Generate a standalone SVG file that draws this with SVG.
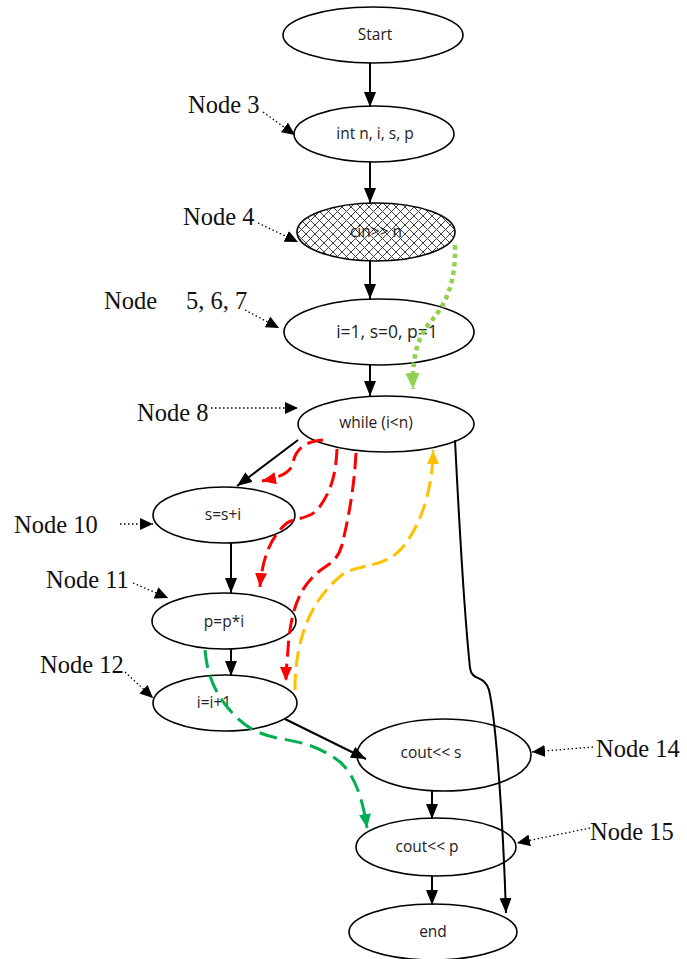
<svg xmlns="http://www.w3.org/2000/svg" width="687" height="959" viewBox="0 0 687 959">
  <defs>
    <style>
      .node ellipse { fill: #ffffff; stroke: #000000; stroke-width: 1.6; }
      .node text { font-family: "Open Sans", "Liberation Sans", sans-serif; font-size: 15.5px; fill: #222222; text-anchor: middle; }
      .lbl { font-family: "Liberation Serif", "DejaVu Serif", serif; font-size: 24.5px; fill: #111111; }
      .flow { fill: none; stroke: #000000; stroke-width: 2; }
      .note { fill: none; stroke: #000000; stroke-width: 1.3; stroke-dasharray: 1.5 2.5; }
      .red { fill: none; stroke: #ff0000; stroke-width: 3; stroke-dasharray: 16 7; }
      .amber { fill: none; stroke: #ffc000; stroke-width: 3; stroke-dasharray: 16 7; }
      .green { fill: none; stroke: #00b050; stroke-width: 3; stroke-dasharray: 18 8; }
      .lime { fill: none; stroke: #92d050; stroke-width: 4.5; stroke-dasharray: 4.5 4; }
    </style>
    <marker id="arrow" markerUnits="userSpaceOnUse" markerWidth="15" markerHeight="12" refX="15" refY="6" orient="auto">
      <path d="M0,0 L15,6 L0,12 z" fill="#000000"/>
    </marker>
    <marker id="arrowSm" markerUnits="userSpaceOnUse" markerWidth="13" markerHeight="12" refX="13" refY="6" orient="auto">
      <path d="M0,0 L13,6 L0,12 z" fill="#000000"/>
    </marker>
    <marker id="arrowRed" markerUnits="userSpaceOnUse" markerWidth="14" markerHeight="12" refX="14" refY="6" orient="auto">
      <path d="M0,0 L14,6 L0,12 z" fill="#ff0000"/>
    </marker>
    <marker id="arrowAmber" markerUnits="userSpaceOnUse" markerWidth="14" markerHeight="12" refX="14" refY="6" orient="auto">
      <path d="M0,0 L14,6 L0,12 z" fill="#ffc000"/>
    </marker>
    <marker id="arrowGreen" markerUnits="userSpaceOnUse" markerWidth="14" markerHeight="12" refX="14" refY="6" orient="auto">
      <path d="M0,0 L14,6 L0,12 z" fill="#00b050"/>
    </marker>
    <marker id="arrowLime" markerUnits="userSpaceOnUse" markerWidth="16" markerHeight="14" refX="16" refY="7" orient="auto">
      <path d="M0,0 L16,7 L0,14 z" fill="#92d050"/>
    </marker>
    <pattern id="crosshatch" patternUnits="userSpaceOnUse" width="9" height="9">
      <rect width="9" height="9" fill="#ffffff"/>
      <path d="M-1,-1 L10,10 M10,-1 L-1,10" stroke="#404040" stroke-width="1"/>
    </pattern>
  </defs>

  <!-- flowchart nodes -->
  <g id="start" class="node">
    <ellipse cx="373" cy="35" rx="90" ry="28"/>
    <text x="375" y="40">Start</text>
  </g>
  <g id="declare" class="node">
    <ellipse cx="374" cy="134" rx="80" ry="28"/>
    <text x="375" y="139">int n, i, s, p</text>
  </g>
  <g id="input" class="node">
    <ellipse cx="376" cy="232" rx="79" ry="29" style="fill:url(#crosshatch)"/>
    <text x="376" y="237">cin&gt;&gt; n</text>
  </g>
  <g id="init" class="node">
    <ellipse cx="379" cy="332" rx="95" ry="33"/>
    <text x="387" y="338" style="font-size:17.5px">i=1, s=0, p=1</text>
  </g>
  <g id="loop" class="node">
    <ellipse cx="386" cy="424" rx="88" ry="28"/>
    <text x="376" y="428">while (i&lt;n)</text>
  </g>
  <g id="sum" class="node">
    <ellipse cx="224" cy="515" rx="71" ry="28"/>
    <text x="223" y="520">s=s+i</text>
  </g>
  <g id="product" class="node">
    <ellipse cx="224" cy="621" rx="72" ry="28"/>
    <text x="224" y="627">p=p*i</text>
  </g>
  <g id="increment" class="node">
    <ellipse cx="225" cy="703" rx="72" ry="28"/>
    <text x="214" y="708">i=i+1</text>
  </g>
  <g id="print-s" class="node">
    <ellipse cx="444" cy="755" rx="87" ry="36"/>
    <text x="431" y="758">cout&lt;&lt; s</text>
  </g>
  <g id="print-p" class="node">
    <ellipse cx="436" cy="847" rx="80" ry="29"/>
    <text x="427" y="852">cout&lt;&lt; p</text>
  </g>
  <g id="end" class="node">
    <ellipse cx="433" cy="932" rx="84" ry="28"/>
    <text x="433" y="937">end</text>
  </g>

  <!-- connectors -->
  <g id="connectors">
    <!-- control flow -->
    <path class="flow" d="M370,63 L370,107" marker-end="url(#arrow)"/>
    <path class="flow" d="M370,162 L370,203" marker-end="url(#arrow)"/>
    <path class="flow" d="M370,261 L370,299" marker-end="url(#arrow)"/>
    <path class="flow" d="M370,365 L370,396" marker-end="url(#arrow)"/>
    <path class="flow" d="M298,440 L237,486" marker-end="url(#arrow)"/>
    <path class="flow" d="M231,543 L231,593" marker-end="url(#arrow)"/>
    <path class="flow" d="M231,649 L231,676" marker-end="url(#arrow)"/>
    <path class="flow" d="M285,719 L366,759" marker-end="url(#arrow)"/>
    <path class="flow" d="M432,791 L432,819" marker-end="url(#arrow)"/>
    <path class="flow" d="M432,876 L432,905" marker-end="url(#arrow)"/>
    <path class="flow" d="M455,440 C459,520 465,620 470,668 C472,682 484,674 489,690 C496,720 503,820 506,913" marker-end="url(#arrow)"/>

    <!-- annotation pointers -->
    <path class="note" d="M263,112 L295,135" marker-end="url(#arrowSm)"/>
    <path class="note" d="M258,223 L298,242" marker-end="url(#arrowSm)"/>
    <path class="note" d="M245,310 L279,328" marker-end="url(#arrowSm)"/>
    <path class="note" d="M211,408 L298,408" marker-end="url(#arrowSm)"/>
    <path class="note" d="M120,524 L153,524" marker-end="url(#arrowSm)"/>
    <path class="note" d="M133,583 L168,598" marker-end="url(#arrowSm)"/>
    <path class="note" d="M125,672 L153,698" marker-end="url(#arrowSm)"/>
    <path class="note" d="M593,747 L532,752" marker-end="url(#arrowSm)"/>
    <path class="note" d="M590,828 L517,843" marker-end="url(#arrowSm)"/>

    <!-- highlighted paths -->
    <path class="lime" d="M455,245 C456,282 446,304 432,320 C418,336 412,355 413,389" marker-end="url(#arrowLime)"/>
    <path class="red" d="M323,440 C305,441 295,450 293,463 C291,472 282,477 262,481" marker-end="url(#arrowRed)"/>
    <path class="red" d="M337,449 C336,470 333,490 318,509 C308,520 296,517 287,523 C270,537 262,560 260,587" marker-end="url(#arrowRed)"/>
    <path class="red" d="M356,453 C354,490 348,520 342,545 C336,566 323,565 312,578 C298,592 290,615 288,650 C287,662 286,670 286,681" marker-end="url(#arrowRed)"/>
    <path class="amber" d="M295,690 C295,640 310,600 343,574 C362,563 385,568 402,548 C420,527 433,490 433,450" marker-end="url(#arrowAmber)"/>
    <path class="green" d="M205,650 C207,672 213,690 228,708 C240,722 250,732 277,738 C300,742 318,745 340,762 C355,775 363,800 367,828" marker-end="url(#arrowGreen)"/>
  </g>

  <!-- node annotations -->
  <g id="annotations">
    <text class="lbl" x="188" y="113">Node 3</text>
    <text class="lbl" x="183" y="225">Node 4</text>
    <text class="lbl" x="104" y="309">Node</text>
    <text class="lbl" x="186" y="309">5, 6, 7</text>
    <text class="lbl" x="137" y="421">Node 8</text>
    <text class="lbl" x="14" y="533">Node 10</text>
    <text class="lbl" x="46" y="588">Node 11</text>
    <text class="lbl" x="40" y="673">Node 12</text>
    <text class="lbl" x="596" y="757">Node 14</text>
    <text class="lbl" x="590" y="840">Node 15</text>
  </g>
</svg>
